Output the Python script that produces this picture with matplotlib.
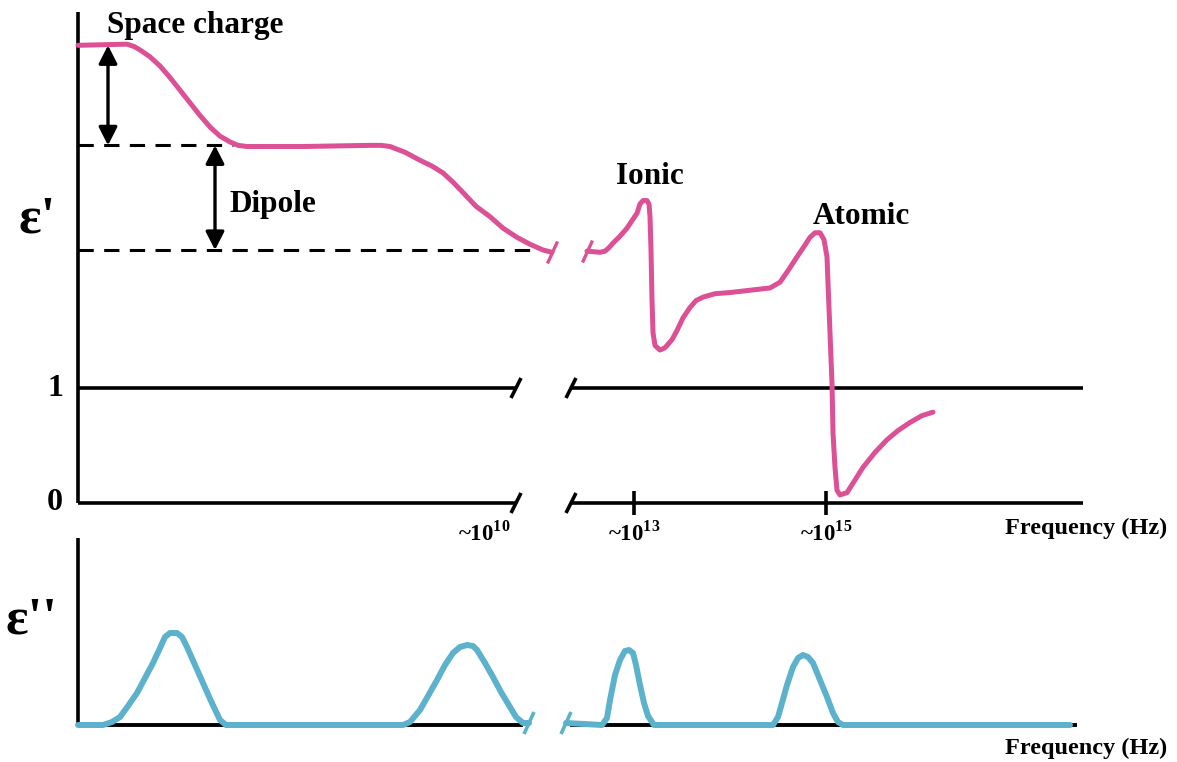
import matplotlib
matplotlib.use("Agg")
import matplotlib.pyplot as plt
from matplotlib.markers import MarkerStyle
from matplotlib.transforms import Affine2D

# === DATA (x = position along the frequency axis, arbitrary units) ===
# real permittivity, low-frequency part (space charge + dipole)
eps1_left_f = [0, 4.9, 5.6, 6.2, 7.2, 8.2, 9.2, 10.2, 11.2, 12.2, 13.2, 14.2, 15.2, 16.0, 16.9,
               22.5, 29.2, 30.3, 31.2, 32.7, 34.2, 35.4, 36.5, 37.5, 38.5, 39.8, 41.2, 42.5,
               43.9, 45.2, 46.5, 47.4]
eps1_left_e = [3.98, 3.99, 3.97, 3.94, 3.88, 3.80, 3.70, 3.59, 3.48, 3.37, 3.27, 3.19, 3.14, 3.11, 3.10,
               3.10, 3.11, 3.11, 3.10, 3.05, 2.98, 2.93, 2.87, 2.79, 2.70, 2.58, 2.49, 2.39,
               2.31, 2.25, 2.20, 2.18]
# real permittivity, high-frequency part (ionic + atomic)
eps1_right_f = [50.9, 52.2, 52.7, 53.1, 53.5, 54.2, 54.9, 55.9, 56.2, 56.5, 56.9, 57.1, 57.2, 57.3,
                57.4, 57.5, 57.7, 58.2, 58.7, 59.4, 59.9, 60.5, 61.2, 61.8, 62.5, 63.7,
                65.2, 67.2, 69.2, 69.8, 70.2, 71.0, 71.9, 72.6, 73.2, 73.7, 74.2, 74.6,
                74.9, 75.0, 75.2, 75.4, 75.5, 75.7, 75.9, 76.2, 76.9, 77.7, 78.5, 79.7,
                80.9, 82.0, 83.2, 84.4, 85.5]
eps1_right_e = [2.19, 2.18, 2.19, 2.22, 2.26, 2.32, 2.39, 2.52, 2.60, 2.63, 2.63, 2.60, 2.49, 2.20,
                1.77, 1.48, 1.37, 1.33, 1.35, 1.42, 1.50, 1.61, 1.70, 1.76, 1.79, 1.82,
                1.83, 1.85, 1.87, 1.90, 1.92, 2.02, 2.14, 2.23, 2.31, 2.35, 2.35, 2.29,
                2.14, 1.91, 1.48, 1.04, 0.61, 0.31, 0.11, 0.07, 0.09, 0.20, 0.31, 0.44,
                0.55, 0.63, 0.70, 0.76, 0.79]

# imaginary permittivity (loss peaks)
eps2_left_f = [0, 2.5, 3.4, 4.2, 5.0, 5.9, 6.7, 7.5, 8.2, 8.7, 9.2, 9.9, 10.4, 10.9, 11.7,
               12.5, 13.3, 14.2, 14.8, 32.5, 33.2, 34.2, 35.0, 35.9, 36.7, 37.5, 38.2,
               38.9, 39.5, 39.9, 40.7, 41.5, 42.3, 43.2, 43.8, 44.5, 45.1]
eps2_left_e = [0, 0, 0.03, 0.08, 0.19, 0.32, 0.47, 0.62, 0.77, 0.88, 0.92, 0.92, 0.88, 0.78,
               0.60, 0.42, 0.24, 0.05, 0, 0, 0.03, 0.15, 0.29, 0.45, 0.60, 0.72, 0.78,
               0.80, 0.79, 0.75, 0.62, 0.48, 0.33, 0.18, 0.08, 0.02, 0.02]
eps2_right_f = [48.8, 52.4, 52.9, 53.2, 53.7, 54.2, 54.7, 55.1, 55.5, 55.8, 56.2, 56.6, 57.0,
                57.6, 69.5, 70.0, 70.4, 70.9, 71.5, 72.0, 72.5, 73.0, 73.5, 74.2, 74.9,
                75.5, 76.0, 76.5, 99.2]
eps2_right_e = [0.02, 0, 0.07, 0.25, 0.50, 0.65, 0.74, 0.75, 0.72, 0.60, 0.40, 0.22, 0.09,
                0, 0, 0.08, 0.22, 0.40, 0.58, 0.67, 0.70, 0.68, 0.62, 0.45, 0.28,
                0.12, 0.03, 0, 0]

space_charge_level = 3.98
dipole_level = 3.11
ionic_level = 2.20

tick_pos = [40.6, 55.6, 74.8]
tick_marks = [55.6, 74.8]
tick_labels = [r"~10$^{\mathbf{10}}$", r"~10$^{\mathbf{13}}$", r"~10$^{\mathbf{15}}$"]

# axis break positions
break_left = 43.8
break_right = 49.3
axis_end = 100.5

PINK = "#dc5096"
CYAN = "#5cb1cc"
BLACK = "black"

plt.rcParams["font.family"] = ["Liberation Serif", "DejaVu Serif"]
plt.rcParams["font.weight"] = "bold"
plt.rcParams["mathtext.fontset"] = "custom"
plt.rcParams["mathtext.rm"] = "Liberation Serif:bold"
plt.rcParams["mathtext.bf"] = "Liberation Serif:bold"

slash = MarkerStyle("|", transform=Affine2D().rotate_deg(-25))

fig = plt.figure(figsize=(11.77, 7.62), dpi=100)
ax1 = fig.add_axes([0, 232 / 762, 1, 530 / 762])
ax2 = fig.add_axes([0, 0, 1, 232 / 762])
ax1.set_xlim(-7.8, 109.9)
ax1.set_ylim(-0.2348, 4.374)
ax2.set_xlim(-7.8, 109.9)
ax2.set_ylim(-0.37, 1.95)
for ax in (ax1, ax2):
    ax.axis("off")

# === TOP PANEL: eps' ===
axis_kw = dict(color=BLACK, lw=2.6, marker=slash, ms=16, mew=2.6, clip_on=False,
               solid_capstyle="butt")
ax1.plot([0, 0], [0, 4.27], color=BLACK, lw=2.6, solid_capstyle="butt")
for lvl in (0, 1):
    ax1.plot([0, break_left], [lvl, lvl], markevery=[1], **axis_kw)
    ax1.plot([break_right, axis_end], [lvl, lvl], markevery=[0], **axis_kw)
ax1.plot(tick_marks, [0] * len(tick_marks), ls="none", marker="|", ms=17, mew=2.6, color=BLACK)

ax1.plot([0, 15.5], [dipole_level, dipole_level], color=BLACK, lw=2.2, ls=(0, (5, 3.4)))
ax1.plot([0, 45.2], [ionic_level, ionic_level], color=BLACK, lw=2.2, ls=(0, (5, 3.4)))

arrow_kw = dict(arrowstyle="<|-|>,head_length=0.55,head_width=0.28", color=BLACK, lw=2.4,
                shrinkA=0, shrinkB=0, mutation_scale=20)
ax1.annotate("", xy=(3.0, space_charge_level), xytext=(3.0, dipole_level), arrowprops=arrow_kw)
ax1.annotate("", xy=(13.7, dipole_level), xytext=(13.7, ionic_level), arrowprops=arrow_kw)

ax1.plot(eps1_left_f, eps1_left_e, color=PINK, lw=3.6, solid_joinstyle="round",
         solid_capstyle="round", marker=slash, markevery=[-1], ms=17, mew=2.4)
ax1.plot(eps1_right_f, eps1_right_e, color=PINK, lw=3.6, solid_joinstyle="round",
         solid_capstyle="round", marker=slash, markevery=[0], ms=17, mew=2.4)

ax1.text(2.9, 4.09, "Space charge", fontsize=22.5, ha="left", va="baseline")
ax1.text(15.2, 2.53, "Dipole", fontsize=22.5, ha="left", va="baseline")
ax1.text(57.2, 2.77, "Ionic", fontsize=22.5, ha="center", va="baseline")
ax1.text(78.3, 2.43, "Atomic", fontsize=22.5, ha="center", va="baseline")
ax1.text(-4.1, 2.35, "ε'", fontsize=38, ha="center", va="baseline")
ax1.text(-2.3, 1.0, "1", fontsize=23, ha="center", va="center")
ax1.text(-2.3, 0.0, "0", fontsize=23, ha="center", va="center")
for pos, lab in zip(tick_pos, tick_labels):
    ax1.text(pos, -0.16, lab, fontsize=16.5, ha="center", va="top")
ax1.text(108.9, -0.217, "Frequency (Hz)", fontsize=17.5, ha="right", va="center")

# === BOTTOM PANEL: eps'' ===
ax2.plot([0, 0], [0, 1.87], color=BLACK, lw=2.6, solid_capstyle="butt", clip_on=False)
ax2.plot([0, 44.5], [0, 0], color=BLACK, lw=2.8, solid_capstyle="butt")
ax2.plot([49.2, 99.9], [0, 0], color=BLACK, lw=2.8, solid_capstyle="butt")

ax2.plot(eps2_left_f, eps2_left_e, color=CYAN, lw=4.3, solid_joinstyle="round",
         solid_capstyle="round", marker=slash, markevery=[-1], ms=17, mew=2.6)
ax2.plot(eps2_right_f, eps2_right_e, color=CYAN, lw=4.3, solid_joinstyle="round",
         solid_capstyle="round", marker=slash, markevery=[0], ms=17, mew=2.6)

ax2.text(-4.7, 0.92, "ε''", fontsize=38, ha="center", va="baseline")
ax2.text(108.9, -0.23, "Frequency (Hz)", fontsize=17.5, ha="right", va="center")

fig.savefig("out.png", dpi=100)
